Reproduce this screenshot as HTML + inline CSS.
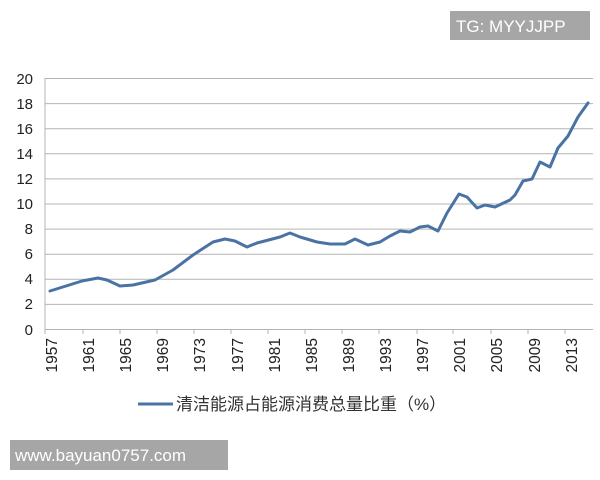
<!DOCTYPE html>
<html><head><meta charset="utf-8"><style>
body{margin:0;background:#fff;}
svg{display:block}
</style></head><body>
<svg width="600" height="480" xmlns="http://www.w3.org/2000/svg" font-family="Liberation Sans, DejaVu Sans, sans-serif">
<rect width="600" height="480" fill="#fff"/>
<g stroke="#b4b4b4" stroke-width="1">
<line x1="45" y1="78.5" x2="593" y2="78.5"/>
<line x1="45" y1="103.6" x2="593" y2="103.6"/>
<line x1="45" y1="128.7" x2="593" y2="128.7"/>
<line x1="45" y1="153.8" x2="593" y2="153.8"/>
<line x1="45" y1="178.9" x2="593" y2="178.9"/>
<line x1="45" y1="204" x2="593" y2="204"/>
<line x1="45" y1="229.1" x2="593" y2="229.1"/>
<line x1="45" y1="254.2" x2="593" y2="254.2"/>
<line x1="45" y1="279.3" x2="593" y2="279.3"/>
<line x1="45" y1="304.4" x2="593" y2="304.4"/>
<line x1="45" y1="329.5" x2="593" y2="329.5"/>
<line x1="45" y1="78" x2="45" y2="334"/>
<line x1="83" y1="329" x2="83" y2="334"/><line x1="120" y1="329" x2="120" y2="334"/>
<line x1="157" y1="329" x2="157" y2="334"/><line x1="194" y1="329" x2="194" y2="334"/>
<line x1="231" y1="329" x2="231" y2="334"/><line x1="268" y1="329" x2="268" y2="334"/>
<line x1="305" y1="329" x2="305" y2="334"/><line x1="342" y1="329" x2="342" y2="334"/>
<line x1="379" y1="329" x2="379" y2="334"/><line x1="417" y1="329" x2="417" y2="334"/>
<line x1="453" y1="329" x2="453" y2="334"/><line x1="491" y1="329" x2="491" y2="334"/>
<line x1="528" y1="329" x2="528" y2="334"/><line x1="565" y1="329" x2="565" y2="334"/>
</g>
<g font-size="15" fill="#222" text-anchor="end">
<text x="33" y="84">20</text><text x="33" y="109">18</text><text x="33" y="134">16</text>
<text x="33" y="159">14</text><text x="33" y="184">12</text><text x="33" y="209">10</text>
<text x="33" y="234">8</text><text x="33" y="259">6</text><text x="33" y="284">4</text>
<text x="33" y="309">2</text><text x="33" y="335">0</text>
</g>
<g font-size="15.5" fill="#222" text-anchor="end">
<text transform="translate(57,338) rotate(-90)">1957</text>
<text transform="translate(94,338) rotate(-90)">1961</text>
<text transform="translate(131,338) rotate(-90)">1965</text>
<text transform="translate(168,338) rotate(-90)">1969</text>
<text transform="translate(205,338) rotate(-90)">1973</text>
<text transform="translate(243,338) rotate(-90)">1977</text>
<text transform="translate(280,338) rotate(-90)">1981</text>
<text transform="translate(317,338) rotate(-90)">1985</text>
<text transform="translate(354,338) rotate(-90)">1989</text>
<text transform="translate(391,338) rotate(-90)">1993</text>
<text transform="translate(428,338) rotate(-90)">1997</text>
<text transform="translate(465,338) rotate(-90)">2001</text>
<text transform="translate(502,338) rotate(-90)">2005</text>
<text transform="translate(540,338) rotate(-90)">2009</text>
<text transform="translate(577,338) rotate(-90)">2013</text>
</g>
<polyline fill="none" stroke="#4a73a4" stroke-width="3" stroke-linejoin="round" stroke-linecap="round"
points="50,291 82,281 98,278 107,280 120,286 133,285 155,280 173,270 193,255 213,242 225,239 235,241 247,247 257,243 280,237 290,233 300,237 317,242 330,244 345,244 355,239 368,245 380,242 390,236 400,231 410,232 420,227 428,226 438,231 447,213 459,194 467,197 477,208 485,205 495,207 510,200 515,195 523,181 532,179 540,162 550,167 558,148 568,136 578,117 588,103"/>
<line x1="138" y1="404" x2="173" y2="404" stroke="#4a73a4" stroke-width="3"/>
<text x="176" y="410" font-size="17" fill="#333" font-family="Liberation Sans, Noto Sans CJK SC, sans-serif">清洁能源占能源消费总量比重（%）</text>
<rect x="450" y="11" width="140" height="29" fill="#a6a6a6"/>
<text x="456" y="32" font-size="17" fill="#fff">TG: MYYJJPP</text>
<rect x="10" y="440" width="218" height="30" fill="#a6a6a6"/>
<text x="15" y="461" font-size="17" fill="#fff">www.bayuan0757.com</text>
</svg>
</body></html>
